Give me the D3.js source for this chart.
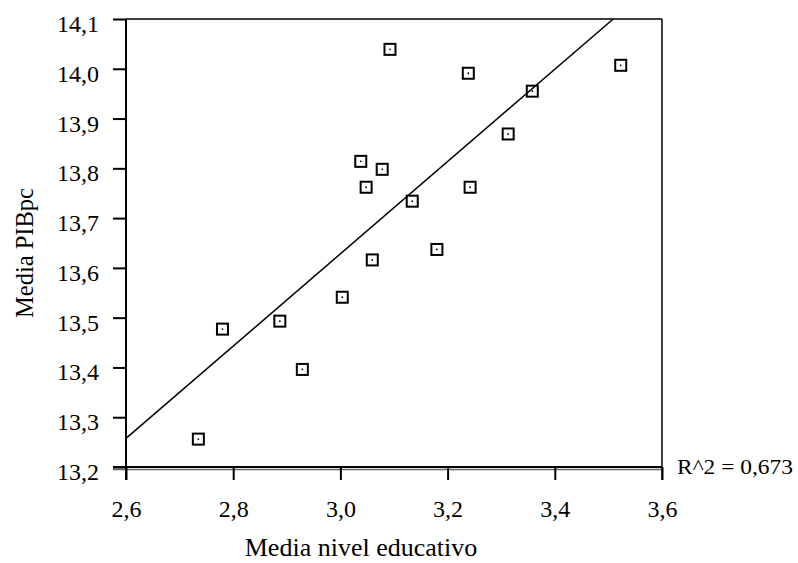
<!DOCTYPE html>
<html>
<head>
<meta charset="utf-8">
<script src="https://cdn.jsdelivr.net/npm/d3@7/dist/d3.min.js"></script>
<style>
  html, body { margin: 0; padding: 0; background: #fff; }
  svg { display: block; }
  svg text { font-family: "Liberation Serif", "Times New Roman", serif; fill: #000; }
</style>
</head>
<body>
<svg id="chart" width="798" height="563"></svg>
<script>
// Data
const educ = [3.0925, 3.2386, 3.358, 3.523, 3.313, 3.038, 3.078, 3.048, 3.242, 3.134, 3.180, 3.0595, 3.0035, 2.887, 2.780, 2.929, 2.735];
const pib  = [14.039, 13.991, 13.955, 14.007, 13.869, 13.814, 13.798, 13.762, 13.762, 13.734, 13.637, 13.616, 13.541, 13.493, 13.477, 13.396, 13.256];
const fitX = [2.6, 3.509];        // fitted line end points
const fitY = [13.2576, 14.1];
const xTicks = [2.6, 2.8, 3.0, 3.2, 3.4, 3.6];
const yTicks = [13.2, 13.3, 13.4, 13.5, 13.6, 13.7, 13.8, 13.9, 14.0, 14.1];
const xTitle = "Media nivel educativo";
const yTitle = "Media PIBpc";
const r2Label = "R^2 = 0,673";

const svg = d3.select("#chart");
const L = 126, R = 662, T = 19, B = 467;
const x = d3.scaleLinear().domain([2.6, 3.6]).range([L, R]);
const y = d3.scaleLinear().domain([13.2, 14.1]).range([B, T]);
const fmt = v => d3.format(".1f")(v).replace(".", ",");
const FF = '"Liberation Serif", "Times New Roman", serif';

// frame: top and right borders
svg.append("line").attr("x1", L).attr("x2", R).attr("y1", T).attr("y2", T)
  .attr("stroke", "#000").attr("stroke-width", 1.5);
svg.append("line").attr("x1", R).attr("x2", R).attr("y1", T).attr("y2", B + 13)
  .attr("stroke", "#000").attr("stroke-width", 1.5);

// bottom double line (grey under-line)
svg.append("line").attr("x1", L - 13).attr("x2", R).attr("y1", B + 2.5).attr("y2", B + 2.5)
  .attr("stroke", "#666").attr("stroke-width", 1.5);

// x axis
const xAxis = d3.axisBottom(x).tickValues(xTicks).tickFormat(fmt).tickSize(13).tickSizeOuter(0);
const gx = svg.append("g").attr("transform", `translate(0,${B})`).call(xAxis);
gx.attr("font-family", null);
gx.select(".domain").attr("stroke", "#000").attr("stroke-width", 2).attr("d", `M${L-13},0H${R}`);
gx.selectAll(".tick line").attr("stroke", "#000").attr("stroke-width", 2);
gx.selectAll(".tick text")
  .style("font-family", FF).style("font-size", "24px")
  .attr("y", 50).attr("dy", "0");

// y axis
const yAxis = d3.axisLeft(y).tickValues(yTicks).tickFormat(fmt).tickSize(13).tickSizeOuter(0);
const gy = svg.append("g").attr("transform", `translate(${L},0)`).call(yAxis);
gy.attr("font-family", null);
gy.select(".domain").attr("stroke", "#000").attr("stroke-width", 2).attr("d", `M0,${T}V${B+13}`);
gy.selectAll(".tick line").attr("stroke", "#000").attr("stroke-width", 2);
gy.selectAll(".tick text")
  .style("font-family", FF).style("font-size", "24px")
  .attr("x", -27).attr("dy", "0.52em");

// fitted line
svg.append("line")
  .attr("x1", x(fitX[0])).attr("y1", y(fitY[0]))
  .attr("x2", x(fitX[1])).attr("y2", y(fitY[1]))
  .attr("stroke", "#000").attr("stroke-width", 1.5);

// markers
const pts = educ.map((v, i) => ({ x: v, y: pib[i] }));
const g = svg.append("g");
g.selectAll("rect").data(pts).join("rect")
  .attr("x", d => x(d.x) - 5.5).attr("y", d => y(d.y) - 5.5)
  .attr("width", 11).attr("height", 11)
  .attr("fill", "none").attr("stroke", "#000").attr("stroke-width", 2);
g.selectAll("circle").data(pts).join("circle")
  .attr("cx", d => x(d.x)).attr("cy", d => y(d.y)).attr("r", 0.9).attr("fill", "#000");

// titles
svg.append("text").attr("x", 361).attr("y", 556).attr("text-anchor", "middle")
  .style("font-family", FF).style("font-size", "26px").text(xTitle);
svg.append("text").attr("transform", `translate(33,253) rotate(-90)`).attr("text-anchor", "middle")
  .style("font-family", FF).style("font-size", "24.5px").text(yTitle);
svg.append("text").attr("x", 677).attr("y", 474)
  .style("font-family", FF).style("font-size", "21px")
  .attr("textLength", 116).attr("lengthAdjust", "spacingAndGlyphs").text(r2Label);
</script>
</body>
</html>
